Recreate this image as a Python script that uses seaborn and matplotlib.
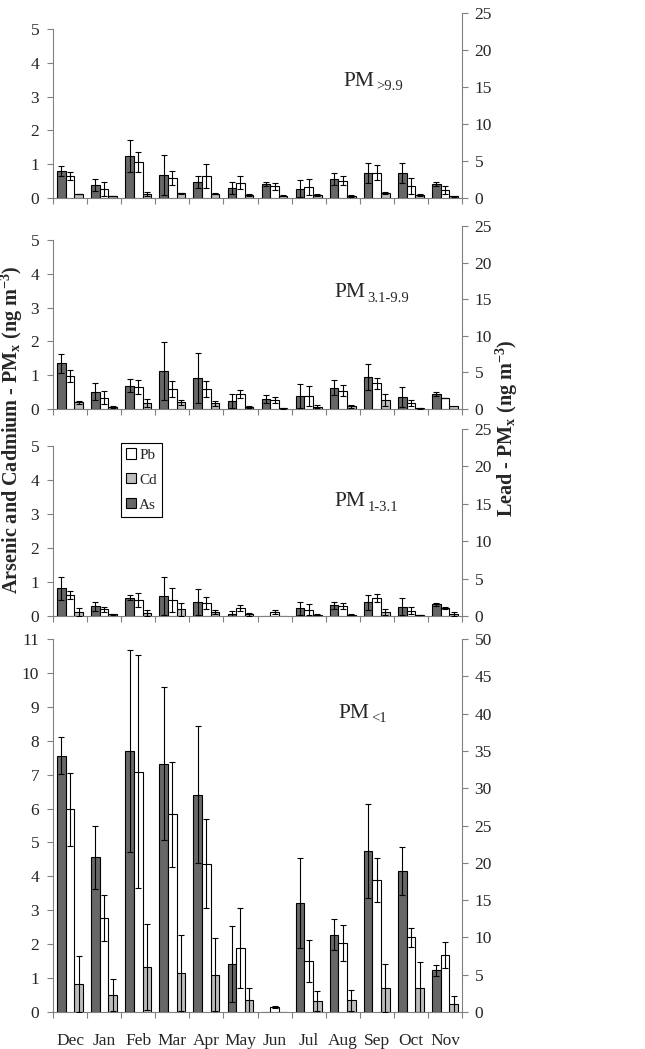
import numpy as np
import pandas as pd
import matplotlib
matplotlib.use("Agg")
import matplotlib.pyplot as plt
import seaborn as sns
from matplotlib.patches import Patch

# ---------------- data ----------------
months = ["Dec", "Jan", "Feb", "Mar", "Apr", "May", "Jun", "Jul", "Aug", "Sep", "Oct", "Nov"]
elements = ["As", "Pb", "Cd"]

# PM >9.9
as1 = [0.80, 0.38, 1.24, 0.68, 0.47, 0.29, 0.41, 0.28, 0.57, 0.74, 0.74, 0.41]
as1_err = [0.14, 0.17, 0.48, 0.58, 0.18, 0.18, 0.06, 0.25, 0.18, 0.31, 0.31, 0.06]
pb1 = [3.0, 1.2, 4.86, 2.65, 3.0, 2.07, 1.57, 1.49, 2.32, 3.42, 1.62, 1.08]
pb1_err = [0.5, 0.95, 1.35, 0.95, 1.6, 0.88, 0.45, 1.08, 0.6, 1.0, 1.08, 0.5]
cd1 = [0.12, 0.06, 0.13, 0.14, 0.13, 0.08, 0.07, 0.09, 0.07, 0.16, 0.09, 0.05]
cd1_err = [0.01, 0.01, 0.06, 0.02, 0.02, 0.03, 0.02, 0.03, 0.03, 0.03, 0.03, 0.01]

# PM 3.1-9.9
as2 = [1.35, 0.51, 0.69, 1.13, 0.92, 0.24, 0.30, 0.39, 0.63, 0.95, 0.35, 0.44]
as2_err = [0.28, 0.25, 0.20, 0.85, 0.73, 0.20, 0.11, 0.35, 0.23, 0.39, 0.30, 0.06]
pb2 = [4.5, 1.55, 3.0, 2.78, 2.73, 2.07, 1.2, 1.8, 2.5, 3.5, 0.82, 1.5]
pb2_err = [0.8, 0.9, 0.9, 1.1, 1.05, 0.5, 0.38, 1.36, 0.73, 0.73, 0.45, 0.05]
cd2 = [0.20, 0.07, 0.18, 0.20, 0.17, 0.07, 0.02, 0.07, 0.08, 0.26, 0.02, 0.08]
cd2_err = [0.04, 0.03, 0.12, 0.07, 0.07, 0.03, 0.01, 0.05, 0.05, 0.17, 0.01, 0.0]

# PM 1-3.1
as3 = [0.81, 0.28, 0.54, 0.59, 0.40, 0.06, 0.0, 0.23, 0.31, 0.40, 0.27, 0.34]
as3_err = [0.34, 0.14, 0.08, 0.56, 0.38, 0.08, 0.0, 0.19, 0.11, 0.22, 0.25, 0.04]
pb3 = [2.8, 0.9, 2.15, 2.1, 1.75, 1.03, 0.54, 0.85, 1.3, 2.4, 0.7, 1.1]
pb3_err = [0.5, 0.35, 0.9, 1.6, 0.75, 0.4, 0.22, 0.72, 0.4, 0.55, 0.45, 0.15]
cd3 = [0.12, 0.05, 0.10, 0.20, 0.12, 0.05, 0.0, 0.04, 0.04, 0.12, 0.03, 0.06]
cd3_err = [0.11, 0.02, 0.09, 0.19, 0.07, 0.05, 0.0, 0.01, 0.01, 0.08, 0.01, 0.05]

# PM <1
as4 = [7.56, 4.56, 7.70, 7.32, 6.41, 1.42, 0.0, 3.21, 2.28, 4.74, 4.16, 1.23]
as4_err = [0.55, 0.94, 2.97, 2.26, 2.01, 1.13, 0.0, 1.32, 0.45, 1.39, 0.71, 0.16]
pb4 = [27.2, 12.6, 32.2, 26.5, 19.9, 8.6, 0.67, 6.8, 9.2, 17.7, 10.0, 7.65]
pb4_err = [4.9, 3.1, 15.6, 7.0, 5.95, 5.4, 0.1, 2.8, 2.4, 2.9, 1.3, 1.75]
cd4 = [0.83, 0.50, 1.32, 1.14, 1.10, 0.34, 0.0, 0.32, 0.34, 0.70, 0.72, 0.23]
cd4_err = [0.82, 0.46, 1.27, 1.12, 1.07, 0.36, 0.0, 0.29, 0.32, 0.71, 0.74, 0.25]

panel_main = ["PM", "PM", "PM", "PM"]
panel_sub = [">9.9", "3.1-9.9", "1-3.1", "<1"]

left_ticks = [list(range(0, 6))] * 3 + [list(range(0, 12))]
right_ticks = [list(range(0, 26, 5))] * 3 + [list(range(0, 51, 5))]

left_label = r"Arsenic and Cadmium - PM$_{\mathbf{x}}$ (ng m$^{\mathbf{-3}}$)"
right_label = r"Lead - PM$_{\mathbf{x}}$ (ng m$^{\mathbf{-3}}$)"

# ---------------- style ----------------
sns.set_style("ticks")
plt.rcParams["font.family"] = ["Liberation Serif", "DejaVu Serif"]
plt.rcParams["mathtext.fontset"] = "custom"
plt.rcParams["mathtext.rm"] = "Liberation Serif"
plt.rcParams["mathtext.bf"] = "Liberation Serif:bold"
plt.rcParams["mathtext.it"] = "Liberation Serif:italic"

AS_COL = "#676767"
CD_COL = "#bdbdbd"
PB_COL = "#ffffff"
SPINE = "#808080"

W, H = 645, 1049
fig = plt.figure(figsize=(W / 100, H / 100), dpi=100)

# pixel boxes (left, right, top, bottom) of each plot area
boxes = [(53, 462, 13, 198), (53, 462, 226, 409), (53, 462, 429, 616), (53, 462, 639, 1012)]
left_top_px = [29, 240, 446, None]
label_pos = [(343, 81), (334, 293), (334, 502), (338, 713)]

panels = [
    (as1, as1_err, pb1, pb1_err, cd1, cd1_err),
    (as2, as2_err, pb2, pb2_err, cd2, cd2_err),
    (as3, as3_err, pb3, pb3_err, cd3, cd3_err),
    (as4, as4_err, pb4, pb4_err, cd4, cd4_err),
]


def long_frame(as_v, pb_v, cd_v, keep):
    rows = []
    for el, vals in zip(elements, (as_v, pb_v, cd_v)):
        for m, v in zip(months, vals):
            rows.append({"month": m, "element": el, "value": v if el in keep else np.nan})
    return pd.DataFrame(rows)


def add_errors(axis, err_map):
    xs, ys, es = [], [], []
    for p in axis.patches:
        h = p.get_height()
        if not np.isfinite(h):
            continue
        w = p.get_width()
        cx = p.get_x() + w / 2
        i = int(round(cx))
        slot = int(round((cx - i) / w))
        el = elements[slot + 1]
        if el not in err_map:
            continue
        e = err_map[el][i]
        if e > 0:
            xs.append(cx)
            ys.append(h)
            es.append(e)
    axis.errorbar(xs, ys, yerr=es, fmt="none", ecolor="black", elinewidth=0.8,
                  capsize=2.3, capthick=0.8, zorder=5)


for k, (vals, box) in enumerate(zip(panels, boxes)):
    as_v, as_e, pb_v, pb_e, cd_v, cd_e = vals
    l, r, t, b = box
    ax = fig.add_axes([l / W, 1 - b / H, (r - l) / W, (b - t) / H])
    ax2 = ax.twinx()

    palette = {"As": AS_COL, "Pb": PB_COL, "Cd": CD_COL}
    dfl = long_frame(as_v, pb_v, cd_v, keep=("As", "Cd"))
    dfr = long_frame(as_v, pb_v, cd_v, keep=("Pb",))
    sns.barplot(data=dfl, x="month", y="value", hue="element", order=months,
                hue_order=elements, palette=palette, width=0.76, errorbar=None,
                edgecolor="black", linewidth=0.8, legend=False, ax=ax)
    sns.barplot(data=dfr, x="month", y="value", hue="element", order=months,
                hue_order=elements, palette=palette, width=0.76, errorbar=None,
                edgecolor="black", linewidth=0.8, legend=False, ax=ax2)
    add_errors(ax, {"As": as_e, "Cd": cd_e})
    add_errors(ax2, {"Pb": pb_e})

    lt = left_ticks[k]
    rt = right_ticks[k]
    if left_top_px[k] is not None:
        top_val = lt[-1] * (b - t) / (b - left_top_px[k])
    else:
        top_val = lt[-1]
    ax.set_ylim(0, top_val)
    ax.set_yticks(lt)
    ax.spines["left"].set_bounds(0, lt[-1])
    ax2.set_ylim(0, rt[-1])
    ax2.set_yticks(rt)

    ax.set_xlim(-0.5, 11.5)
    ax.set_xticks(range(12))
    ax.set_xticks(np.arange(-0.5, 12, 1), minor=True)
    ax.tick_params(axis="x", which="major", length=0, pad=15, labelsize=12.5)
    ax.tick_params(axis="x", which="minor", length=4, width=0.8, color=SPINE, direction="out")
    if k < 3:
        ax.set_xticklabels([])
    else:
        ax.set_xticklabels(months)
    ax.tick_params(axis="y", length=4, width=0.8, color=SPINE, direction="out", pad=6, labelsize=12.5)
    ax2.tick_params(axis="y", length=4, width=0.8, color=SPINE, direction="out", pad=5, labelsize=12.5)

    for s in ("top", "right"):
        ax.spines[s].set_visible(False)
    for s in ("top", "left", "bottom"):
        ax2.spines[s].set_visible(False)
    ax2.spines["right"].set_visible(True)
    for sp in (ax.spines["left"], ax.spines["bottom"], ax2.spines["right"]):
        sp.set_color(SPINE)
        sp.set_linewidth(0.8)
    ax.set_xlabel("")
    ax.set_ylabel("")
    ax2.set_ylabel("")

    px, py = label_pos[k]
    tmain = fig.text(px / W, 1 - py / H, panel_main[k], fontsize=15.5, ha="left", va="center")
    fig.add_artist(matplotlib.text.Annotation(
        panel_sub[k], xy=(1, 0), xycoords=tmain, xytext=(2, -2),
        textcoords="offset points", fontsize=10.5, ha="left", va="bottom"))

    if k == 2:
        handles = [Patch(facecolor=PB_COL, edgecolor="black", linewidth=0.8, label="Pb"),
                   Patch(facecolor=CD_COL, edgecolor="black", linewidth=0.8, label="Cd"),
                   Patch(facecolor=AS_COL, edgecolor="black", linewidth=0.8, label="As")]
        leg = ax2.legend(handles=handles, loc="upper left",
                         bbox_to_anchor=(121 / W, 1 - 443 / H), bbox_transform=fig.transFigure,
                         frameon=True, fancybox=False, edgecolor="black", framealpha=1,
                         borderpad=0.35, handlelength=0.65, handleheight=0.65,
                         handletextpad=0.2, labelspacing=0.75, fontsize=11,
                         borderaxespad=0)
        leg.get_frame().set_linewidth(0.8)

fig.text(12 / W, 1 - 430 / H, left_label, rotation=90, fontsize=14.5, fontweight="bold",
         ha="center", va="center")
fig.text(507 / W, 1 - 428 / H, right_label, rotation=90, fontsize=14.5, fontweight="bold",
         ha="center", va="center")

fig.savefig("out.png", dpi=100, facecolor="white")
